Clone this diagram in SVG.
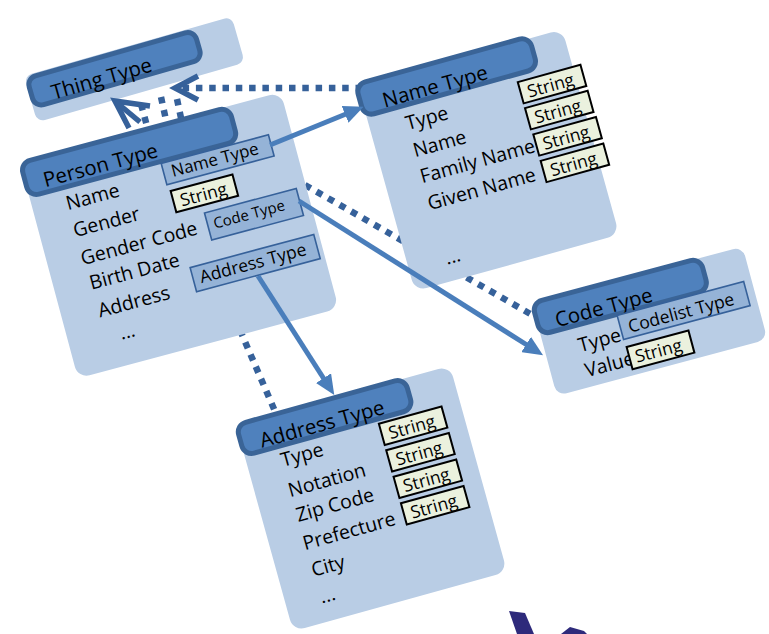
<svg xmlns="http://www.w3.org/2000/svg" width="769" height="634" viewBox="0 0 769 634">
<defs>
<style>
text{font-family:"Open Sans","Noto Sans","Liberation Sans",sans-serif;fill:#000}
.panel{fill:#b9cde5}
.hdr{fill:#4f81bd;stroke:#3a6497;stroke-width:5}
.ht{font-size:20.5px}
.fld{font-size:19.5px}
.tbox{fill:#95b3d7;stroke:#36619a;stroke-width:1.6}
.sbox{fill:#ebf1de;stroke:#000;stroke-width:2}
.st{font-size:17.5px}
.dot{fill:none;stroke:#36619a;stroke-width:6.5;stroke-dasharray:6.5 6.8}
.sol{fill:none;stroke:#4a7ebb;stroke-width:5}
.open{fill:none;stroke:#36619a;stroke-width:5.5;stroke-linejoin:miter}
</style>
<marker id="ah" viewBox="0 0 20 18" refX="1" refY="9" markerWidth="20" markerHeight="18" markerUnits="userSpaceOnUse" orient="auto">
<path d="M0,0 L20,9 L0,18 z" fill="#4a7ebb"/>
</marker>
</defs>

<g id="thing-type" transform="translate(24,76) rotate(-16)">
<rect class="panel" x="0" y="0" width="216" height="48" rx="8"/>
<rect class="hdr" x="2" y="3" width="174" height="30" rx="9"/>
<text class="ht" x="22" y="31">Thing Type</text>
</g>

<g id="connectors-dotted">
<line class="dot" x1="362" y1="88" x2="180" y2="88"/>
<line class="dot" x1="305" y1="185" x2="534" y2="316"/>
<line class="dot" x1="240" y1="330" x2="277" y2="416"/>
<line class="dot" x1="141" y1="104" x2="147" y2="126"/>
<line class="dot" x1="161" y1="97" x2="166" y2="120"/>
<line class="dot" x1="177" y1="99" x2="181" y2="118"/>
</g>

<g id="person-type" transform="translate(20,162) rotate(-15)">
<rect class="panel" x="0" y="0" width="270" height="224" rx="12"/>
<rect class="hdr" x="0" y="1" width="216" height="35" rx="10"/>
<text class="ht" x="18" y="31">Person Type</text>
<text class="fld" x="34" y="59">Name</text>
<text class="fld" x="34" y="87">Gender</text>
<text class="fld" x="34" y="116">Gender Code</text>
<text class="fld" x="36" y="142">Birth Date</text>
<text class="fld" x="37" y="171">Address</text>
<text class="fld" x="52" y="198">...</text>
<rect class="tbox" x="136" y="38" width="111" height="22"/>
<text style="font-size:17px" x="144" y="54">Name Type</text>
<rect class="sbox" x="138" y="67" width="64" height="22"/>
<text class="st" x="145" y="85">String</text>
<rect class="tbox" x="165" y="97" width="95" height="28"/>
<text style="font-size:15px" x="171" y="115">Code Type</text>
<rect class="tbox" x="137" y="146" width="128" height="25"/>
<text style="font-size:17.5px" x="144" y="164">Address Type</text>
</g>

<g id="name-type" transform="translate(358,86) rotate(-15.5)">
<rect class="panel" x="0" y="0" width="212" height="213" rx="12"/>
<rect class="hdr" x="-2" y="-2" width="180" height="33" rx="10"/>
<text class="ht" x="20" y="28">Name Type</text>
<text class="fld" x="36" y="56">Type</text>
<text class="fld" x="36" y="84">Name</text>
<text class="fld" x="36" y="111">Family Name</text>
<text class="fld" x="36" y="139">Given Name</text>
<text class="fld" x="38" y="196">...</text>
<rect class="sbox" x="155" y="39" width="65" height="22"/>
<text class="st" x="162" y="57">String</text>
<rect class="sbox" x="155" y="66" width="65" height="22"/>
<text class="st" x="162" y="84">String</text>
<rect class="sbox" x="156" y="93.5" width="65" height="22"/>
<text class="st" x="163" y="111.5">String</text>
<rect class="sbox" x="156" y="121" width="65" height="22"/>
<text class="st" x="163" y="139">String</text>
</g>

<g id="code-type" transform="translate(532,303) rotate(-15)">
<rect class="panel" x="0" y="0" width="218" height="96" rx="10"/>
<rect class="hdr" x="0" y="0" width="174" height="33" rx="10"/>
<text class="ht" x="18" y="30">Code Type</text>
<text class="fld" x="34" y="60">Type</text>
<text class="fld" x="34" y="86">Value</text>
<rect class="tbox" x="79" y="34" width="131" height="25"/>
<text class="st" x="87" y="54">Codelist Type</text>
<rect class="sbox" x="80" y="67" width="64" height="23"/>
<text class="st" x="86" y="85">String</text>
</g>

<g id="address-type" transform="translate(236,425) rotate(-15.5)">
<rect class="panel" x="0" y="0" width="222" height="214" rx="12"/>
<rect class="hdr" x="0" y="0" width="175" height="32" rx="10"/>
<text class="ht" x="19" y="29">Address Type</text>
<text class="fld" x="34" y="53">Type</text>
<text class="fld" x="33" y="84">Notation</text>
<text class="fld" x="34" y="110">Zip Code</text>
<text class="fld" x="33" y="139">Prefecture</text>
<text class="fld" x="34" y="167">City</text>
<text class="fld" x="35" y="195">...</text>
<rect class="sbox" x="138" y="37" width="65" height="22"/>
<text class="st" x="145" y="55">String</text>
<rect class="sbox" x="138" y="64.5" width="65" height="22"/>
<text class="st" x="145" y="82.5">String</text>
<rect class="sbox" x="138" y="92" width="65" height="22"/>
<text class="st" x="145" y="110">String</text>
<rect class="sbox" x="138" y="119.5" width="65" height="22"/>
<text class="st" x="145" y="137.5">String</text>
</g>

<g id="connectors">
<line class="sol" x1="270" y1="145" x2="346" y2="114" marker-end="url(#ah)"/>
<line class="sol" x1="299" y1="201" x2="527" y2="345" marker-end="url(#ah)"/>
<line class="sol" x1="258" y1="276" x2="324" y2="379" marker-end="url(#ah)"/>
<path class="open" d="M198,76 L175,88 L198,100"/>
<path class="open" d="M129,128 L115,101 L150,106"/>
<path class="open" d="M116,102 L140,122"/>
</g>

<g id="bottom-shape" fill="#2e2a7b">
<polygon points="509,611 525,613 534,634 517,634"/>
<polygon points="561,634 570,627 584,631 587,634"/>
</g>
</svg>
